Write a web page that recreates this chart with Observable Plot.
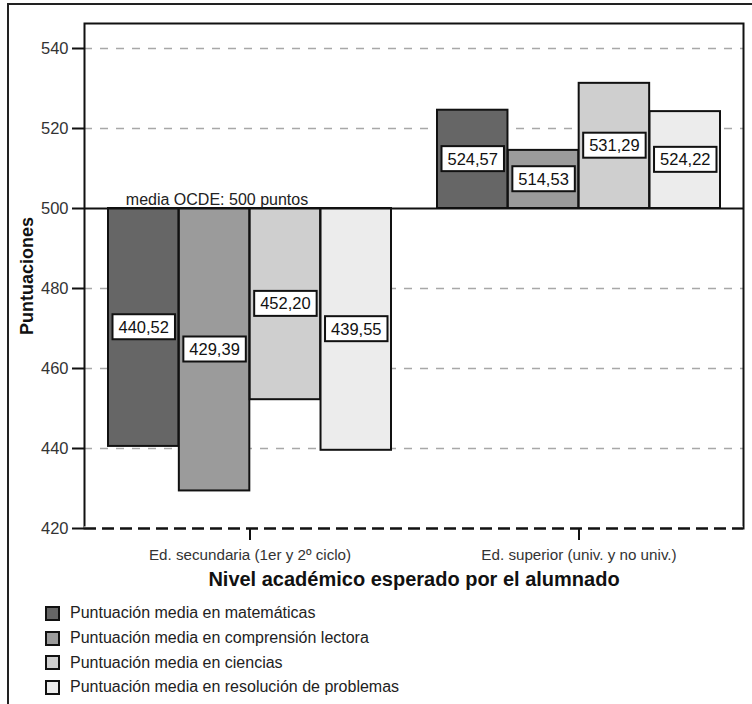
<!DOCTYPE html>
<html>
<head>
<meta charset="utf-8">
<script src="https://cdn.jsdelivr.net/npm/d3@7"></script>
<script src="https://cdn.jsdelivr.net/npm/@observablehq/plot@0.6"></script>
<style>
  body { margin: 0; background: #fff; font-family: "Liberation Sans", Arial, sans-serif; }
  #wrap { position: relative; width: 752px; height: 704px; overflow: hidden; background: #fff; }
  #outer { position: absolute; left: 7px; top: 3px; width: 800px; height: 800px; border-left: 2px solid #222; border-top: 2px solid #222; }
  #chart { position: absolute; left: 0; top: 0; }
  #legend { position: absolute; left: 45px; top: 601px; font-size: 16px; color: #222; }
  .item { display: flex; align-items: center; height: 24.7px; }
  .sw { width: 11px; height: 11px; border: 2px solid #111; margin-right: 10px; }
</style>
</head>
<body>
<div id="wrap">
  <div id="outer"></div>
  <div id="chart"></div>
  <div id="legend"></div>
</div>
<script>
const groups = ["Ed. secundaria (1er y 2º ciclo)", "Ed. superior (univ. y no univ.)"];
const series = [
  "Puntuación media en matemáticas",
  "Puntuación media en comprensión lectora",
  "Puntuación media en ciencias",
  "Puntuación media en resolución de problemas"
];
const secundaria = [440.52, 429.39, 452.20, 439.55];
const superior = [524.57, 514.53, 531.29, 524.22];
const colors = ["#666666", "#9b9b9b", "#cfcfcf", "#ececec"];
const yTicks = [420, 440, 460, 480, 500, 520, 540];
const gridTicks = [440, 460, 480, 520, 540];
const oecdMean = 500;
const oecdLabel = "media OCDE: 500 puntos";
const xTitle = "Nivel académico esperado por el alumnado";
const yTitle = "Puntuaciones";

const rows = [];
series.forEach((s, i) => {
  rows.push({group: groups[0], series: s, i, value: secundaria[i]});
  rows.push({group: groups[1], series: s, i, value: superior[i]});
});

const W = 752, H = 595;
const mL = 84, mR = 9, mT = 23, mB = 67;
const padInner = 0.14, padOuter = 0.07;
const innerW = W - mL - mR;
const step = innerW / (groups.length - padInner + 2 * padOuter);
const bw = step * (1 - padInner);
const q = bw / series.length;
const fmt = v => v.toFixed(2).replace(".", ",");

const marks = [
  Plot.ruleY(gridTicks, {y: d => d, stroke: "#a8a8a8", strokeWidth: 1.6, strokeDasharray: "8,8"})
];
series.forEach((s, i) => {
  marks.push(Plot.barY(rows.filter(r => r.i === i), {
    x: "group", y1: oecdMean, y2: "value",
    fill: colors[i], stroke: "#111", strokeWidth: 2,
    insetLeft: i * q, insetRight: (series.length - 1 - i) * q
  }));
});
marks.push(Plot.ruleY([oecdMean], {stroke: "#111", strokeWidth: 2}));
marks.push(Plot.frame({stroke: "#111", strokeWidth: 2}));
marks.push(Plot.ruleY([yTicks[0]], {stroke: "#fff", strokeWidth: 4}));
marks.push(Plot.ruleY([yTicks[0]], {stroke: "#111", strokeWidth: 2.5, strokeDasharray: "12,6"}));
series.forEach((s, i) => {
  marks.push(Plot.text(rows.filter(r => r.i === i), {
    x: "group", y: d => (d.value + oecdMean) / 2, text: d => fmt(d.value),
    dx: (i - (series.length - 1) / 2) * q, fontSize: 16.5, fill: "#111",
    lineAnchor: "middle", className: "vlabel"
  }));
});
marks.push(Plot.text([oecdLabel], {x: () => groups[0], y: () => oecdMean, text: d => d, dx: -33, dy: -4, lineAnchor: "bottom", fontSize: 16, fill: "#222"}));
marks.push(Plot.axisY(yTicks, {tickSize: 12, tickPadding: 4, strokeWidth: 2, fontSize: 16.5, fill: "#333", stroke: "#111", label: null}));
marks.push(Plot.axisX({tickSize: 12, tickPadding: 9, strokeWidth: 2, fontSize: 15.2, fill: "#333", stroke: "#111", label: null}));
marks.push(Plot.text([xTitle], {frameAnchor: "bottom", text: d => d, dy: 57, lineAnchor: "bottom", fontSize: 20, fontWeight: "bold", fill: "#111"}));
marks.push(Plot.text([yTitle], {frameAnchor: "left", text: d => d, dx: -57, rotate: -90, textAnchor: "middle", fontSize: 18, fontWeight: "bold", fill: "#111"}));

const chart = Plot.plot({
  width: W, height: H,
  marginLeft: mL, marginRight: mR, marginTop: mT, marginBottom: mB,
  style: {fontFamily: "'Liberation Sans', Arial, sans-serif", background: "transparent", overflow: "visible"},
  x: {domain: groups, paddingInner: padInner, paddingOuter: padOuter, axis: null},
  y: {domain: [420, 546.25], axis: null},
  marks
});
document.getElementById("chart").appendChild(chart);

// white boxes with black borders behind value labels
chart.querySelectorAll(".vlabel text").forEach(t => {
  const b = t.getBBox();
  const r = document.createElementNS("http://www.w3.org/2000/svg", "rect");
  r.setAttribute("x", b.x - 6);
  r.setAttribute("y", b.y - 3.5);
  r.setAttribute("width", b.width + 12);
  r.setAttribute("height", b.height + 7);
  r.setAttribute("fill", "#fff");
  r.setAttribute("stroke", "#111");
  r.setAttribute("stroke-width", 2);
  if (t.getAttribute("transform")) r.setAttribute("transform", t.getAttribute("transform"));
  t.parentNode.insertBefore(r, t);
});

const legend = document.getElementById("legend");
series.forEach((s, i) => {
  const it = document.createElement("div");
  it.className = "item";
  const sw = document.createElement("div");
  sw.className = "sw";
  sw.style.background = colors[i];
  const lb = document.createElement("span");
  lb.textContent = s;
  it.appendChild(sw); it.appendChild(lb);
  legend.appendChild(it);
});
</script>
</body>
</html>
